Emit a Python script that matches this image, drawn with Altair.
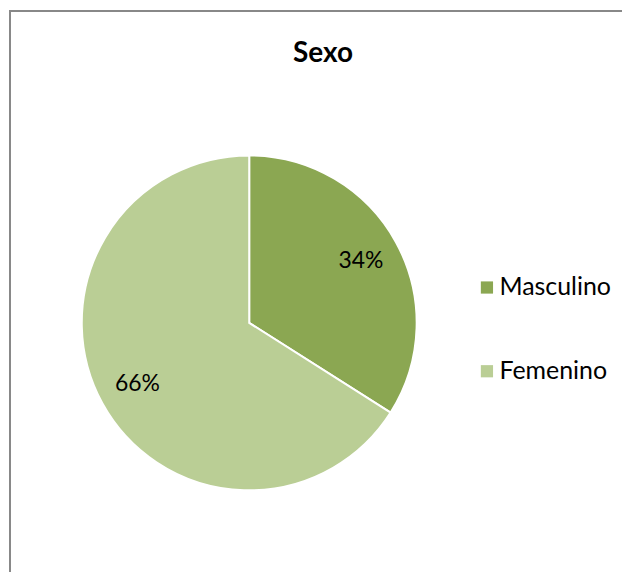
import altair as alt
import pandas as pd

categories = ["Masculino", "Femenino"]
values = [34, 66]
labels = ["34%", "66%"]
colors = ["#8BA752", "#BACE95"]

df = pd.DataFrame({"sexo": categories, "valor": values, "label": labels, "orden": [0, 1]})

W, H = 615, 564
cx, cy = 241, 314
FONT = "Lato"

base = alt.Chart(df).encode(
    theta=alt.Theta("valor:Q", stack=True),
    order=alt.Order("orden:Q"),
)

pie = base.mark_arc(outerRadius=168, stroke="white", strokeWidth=2).encode(
    x=alt.value(cx), y=alt.value(cy),
    color=alt.Color("sexo:N", sort=categories,
                    scale=alt.Scale(domain=categories, range=colors),
                    legend=alt.Legend(title=None, orient="none", legendX=467, legendY=266,
                                      symbolType="square", symbolSize=150, symbolStrokeWidth=0,
                                      labelFontSize=25, labelFont=FONT, labelColor="#000000",
                                      rowPadding=58, labelOffset=0)),
)

text = base.mark_text(radius=128, fontSize=23, font=FONT, color="#000000").encode(
    x=alt.value(cx), y=alt.value(cy), text="label:N"
)

title = alt.Chart(pd.DataFrame({"t": ["Sexo"]})).mark_text(
    fontSize=28, fontWeight="bold", font=FONT, color="#000000", baseline="alphabetic"
).encode(x=alt.value(315), y=alt.value(52), text="t:N")

frame_df = pd.DataFrame({"k": [0]})
left_line = alt.Chart(frame_df).mark_rule(color="#888888", strokeWidth=2).encode(
    x=alt.value(1), y=alt.value(0), y2=alt.value(H)
)
top_line = alt.Chart(frame_df).mark_rule(color="#888888", strokeWidth=2).encode(
    x=alt.value(0), x2=alt.value(W), y=alt.value(1)
)

chart = alt.layer(pie, text, title, left_line, top_line).properties(
    width=W, height=H, padding=0
).configure_view(stroke=None)

chart.save("out.html", embed_options={"renderer": "svg", "actions": False})
